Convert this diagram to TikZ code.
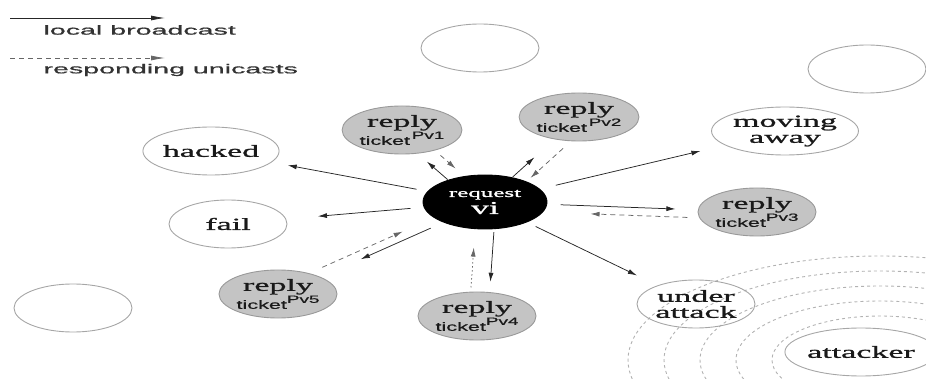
\documentclass[tikz,border=0pt]{standalone}
\usepackage{fontspec}
\newfontfamily\lblfont{Liberation Serif}[FakeStretch=2.0,FakeBold=1.2]
\newfontfamily\tckfont{Liberation Sans}[FakeStretch=1.8,FakeBold=0.8]
\newfontfamily\legfont{Liberation Sans}[FakeStretch=2.2,FakeBold=0.8]
\usetikzlibrary{calc,shapes.geometric,arrows.meta}
\newcommand{\tck}[1]{{\tckfont\fontsize{12}{12}\selectfont ticket\raisebox{6pt}{\fontsize{10.5}{10}\selectfont #1}}}
\tikzset{
  state/.style={ellipse, draw=black!35, line width=.9pt, minimum width=118pt, minimum height=48pt,
    inner sep=0pt, align=center, text=black!90, font=\lblfont\fontsize{17}{16}\selectfont},
  reply/.style={state, fill=black!23, draw=black!40, font=\lblfont\fontsize{17}{18}\selectfont},
  bcast/.style={-{Latex[length=9pt,width=5pt]}, draw=black!85, line width=.75pt},
  ucast/.style={bcast, draw=black!60, dash pattern=on 5pt off 4pt},
  wave/.style={draw=black!30, line width=.9pt, dash pattern=on 3pt off 3pt}
}
\begin{document}
\begin{tikzpicture}[x=1pt,y=-1pt]
  \useasboundingbox (0,0) rectangle (926,379);
  \clip (0,0) rectangle (926,379);
  \foreach \rx/\ry in {252/104,216/89,180/74,144/59,108/44}
    \draw[wave] (880,360) ellipse[x radius=\rx, y radius=\ry];

  \coordinate (la) at (10,18); \coordinate (lb) at (165,18);
  \coordinate (lc) at (10,58); \coordinate (ld) at (165,58);
  \draw[bcast, -{Latex[length=14pt,width=5pt]}] (la) -- (lb);
  \draw[ucast, -{Latex[length=14pt,width=5pt]}] (lc) -- (ld);
  \node[anchor=west, text=black!80, font=\legfont\fontsize{13}{13}\selectfont] (lbl1) at (40,30) {local broadcast};
  \node[anchor=west, text=black!80, font=\legfont\fontsize{13}{13}\selectfont] (lbl2) at (40,70) {responding unicasts};

  \node[state] (e1) at (480,48) {}; \node[state] (e2) at (867,69) {}; \node[state] (e3) at (73,308) {};
  \node[state] (hk) at (211,151) {hacked};
  \node[state] (fl) at (228,224) {fail};
  \node[state] (mv) at (785,131) {moving\\away};
  \node[state] (ua) at (696,304) {under\\attack};
  \node[state] (at) at (861,352) {attacker};
  \node[reply] (r1) at (402,130) {reply\\\tck{\,Pv1}};
  \node[reply] (r2) at (579,117) {reply\\\tck{\,Pv2}};
  \node[reply] (r3) at (757,212) {reply\\\tck{Pv3}};
  \node[reply] (r4) at (477,316) {reply\\\tck{Pv4}};
  \node[reply] (r5) at (278,294) {reply\\\tck{Pv5}};
  \node[state, fill=black, draw=black, text=white, minimum width=124pt, minimum height=54pt,
    font=\lblfont\fontsize{12.5}{17}\selectfont] (req) at (485,202)
    {request\\{\fontsize{18}{17}\selectfont vi}};

  \draw[bcast] ($(req)!.25!(hk)$) -- ($(req)!.72!(hk)$);
  \draw[bcast] ($(req)!.29!(fl)$) -- ($(req)!.65!(fl)$);
  \draw[bcast] ($(req)!.236!(mv)$) -- ($(req)!.718!(mv)$);
  \draw[bcast] ($(req)!.24!(ua)$) -- ($(req)!.72!(ua)$);
  \draw[bcast, transform canvas={shift={(0,10)}}] ($(req)!.45!(r1)$) -- ($(req)!.70!(r1)$);
  \draw[ucast, transform canvas={shift={(0,-8)}}] ($(req)!.537!(r1)$) -- ($(req)!.354!(r1)$);
  \draw[bcast] ($(req)!.295!(r2)$) -- ($(req)!.526!(r2)$);
  \draw[ucast, transform canvas={shift={(0,17)}}] ($(req)!.83!(r2)$) -- ($(req)!.484!(r2)$);
  \draw[bcast] ($(req)!.278!(r3)$) -- ($(req)!.70!(r3)$);
  \draw[ucast, transform canvas={shift={(0,8)}}] ($(req)!.744!(r3)$) -- ($(req)!.388!(r3)$);
  \draw[bcast, transform canvas={shift={(11,0)}}] ($(req)!.265!(r4)$) -- ($(req)!.70!(r4)$);
  \draw[ucast, dash pattern=on 1.5pt off 2.5pt, transform canvas={shift={(-8,0)}}] ($(req)!.75!(r4)$) -- ($(req)!.40!(r4)$);
  \draw[bcast, transform canvas={shift={(0,2)}}] ($(req)!.262!(r5)$) -- ($(req)!.60!(r5)$);
  \draw[ucast, transform canvas={shift={(0,-7)}}] ($(req)!.786!(r5)$) -- ($(req)!.398!(r5)$);
\end{tikzpicture}
\end{document}
